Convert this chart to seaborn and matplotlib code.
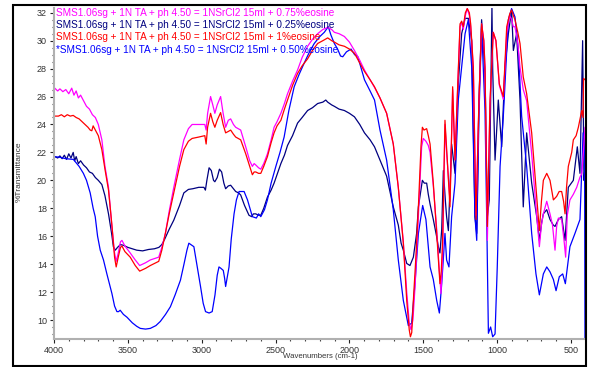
import matplotlib
matplotlib.use("Agg")
import matplotlib.pyplot as plt
import seaborn as sns
import pandas as pd
from matplotlib.patches import Rectangle
from matplotlib.ticker import MultipleLocator

sns.set_theme(style="white")
plt.rcParams['font.family'] = ['Liberation Sans', 'DejaVu Sans']

labels = [
    "SMS1.06sg + 1N TA + ph 4.50 = 1NSrCl2 15ml + 0.75%eosine",
    "SMS1.06sg + 1N TA + ph 4.50 = 1NSrCl2 15ml + 0.25%eosine",
    "SMS1.06sg + 1N TA + ph 4.50 = 1NSrCl2 15ml + 1%eosine",
    "*SMS1.06sg + 1N TA + ph 4.50 = 1NSrCl2 15ml + 0.50%eosine",
]
colors = ["#FF00FF", "#000080", "#FF0000", "#0000FF"]

# 0.75% eosine (magenta)
wn_m = [3995, 3975, 3960, 3940, 3920, 3900, 3880, 3865, 3850, 3835, 3820, 3800, 3780, 3760, 3740, 3720, 3700,
        3676, 3655, 3631, 3608, 3590, 3579, 3565, 3550, 3540, 3520, 3484, 3450, 3420, 3380, 3348, 3291, 3270,
        3246, 3220, 3189, 3150, 3121, 3090, 3065, 3020, 2979, 2970, 2960, 2940, 2925, 2911, 2895, 2872, 2855,
        2838, 2820, 2804, 2785, 2770, 2736, 2702, 2675, 2657, 2645, 2634, 2615, 2600, 2580, 2555, 2530, 2510,
        2490, 2464, 2440, 2419, 2385, 2351, 2320, 2283, 2250, 2215, 2180, 2147, 2120, 2102, 2070, 2034, 2000,
        1966, 1930, 1898, 1860, 1830, 1793, 1748, 1703, 1669, 1635, 1612, 1595, 1583, 1570, 1555, 1533, 1511,
        1500, 1482, 1466, 1454, 1432, 1409, 1391, 1380, 1369, 1353, 1342, 1335, 1319, 1301, 1285, 1269, 1251,
        1240, 1229, 1215, 1202, 1188, 1179, 1161, 1143, 1123, 1105, 1090, 1082, 1066, 1048, 1026, 1008, 985,
        958, 935, 915, 902, 890, 879, 860, 845, 823, 800, 766, 737, 714, 700, 687, 664, 642, 625, 608, 597,
        585, 563, 545, 536, 525, 507, 484, 461, 440, 427, 416, 405]
t_m = [26.6, 26.4, 26.55, 26.35, 26.5, 26.2, 26.6, 26.1, 26.4, 25.9, 26.1, 25.7, 25.3, 25.1, 24.7, 24.5, 24.0,
       22.9, 21.0, 19.5, 16.7, 14.8, 14.2, 14.8, 15.6, 15.7, 15.3, 14.8, 14.3, 13.9, 14.1, 14.3, 14.5, 15.2,
       16.2, 17.8, 19.5, 21.5, 22.9, 23.7, 24.0, 24.0, 24.0, 23.6, 24.8, 26.0, 25.4, 24.8, 25.4, 26.0, 24.8,
       23.8, 24.3, 24.4, 24.0, 23.8, 23.6, 22.4, 21.4, 21.0, 21.2, 21.1, 20.9, 20.8, 21.2, 21.9, 22.9, 23.8,
       24.2, 24.8, 25.5, 26.2, 27.1, 27.9, 28.8, 29.6, 30.1, 30.5, 30.8, 30.95, 30.8, 30.6, 30.5, 30.3, 29.9,
       29.3, 28.6, 27.9, 27.2, 26.65, 25.9, 24.8, 22.6, 19.5, 15.6, 12.0, 9.8, 9.3, 10.0, 12.5, 17.5, 22.4,
       23.0, 22.8, 22.5, 22.0, 19.6, 16.5, 13.5, 11.9, 14.5, 24.0, 22.0, 21.0, 18.5, 26.5, 21.5, 26.0, 31.0,
       31.3, 30.8, 31.8, 32.3, 31.8, 31.0, 28.0, 17.5, 25.5, 31.2, 30.0, 28.0, 15.7, 25.5, 30.6, 30.0, 26.8,
       25.8, 30.5, 31.8, 31.5, 31.0, 31.0, 29.8, 28.1, 26.5, 25.7, 21.9, 18.1, 15.25, 16.8, 17.6, 18.5, 17.6,
       16.8, 15.0, 16.7, 17.3, 17.2, 15.5, 14.5, 17.5, 18.6, 19.0, 19.5, 20.2, 20.5, 22.0, 23.8]

# 0.25% eosine (navy)
wn_n = [3995, 3975, 3960, 3945, 3930, 3915, 3900, 3885, 3870, 3860, 3850, 3835, 3820, 3800, 3780, 3760, 3740,
        3720, 3700, 3676, 3655, 3631, 3610, 3598, 3585, 3570, 3550, 3530, 3500, 3470, 3440, 3400, 3360, 3320,
        3290, 3270, 3250, 3220, 3189, 3150, 3121, 3090, 3060, 3020, 2985, 2975, 2965, 2950, 2935, 2920, 2911,
        2895, 2880, 2865, 2850, 2838, 2820, 2804, 2785, 2770, 2750, 2736, 2710, 2680, 2662, 2650, 2634, 2615,
        2600, 2580, 2555, 2530, 2510, 2490, 2464, 2440, 2419, 2385, 2351, 2320, 2283, 2250, 2215, 2180, 2160,
        2147, 2120, 2102, 2070, 2034, 2000, 1966, 1930, 1898, 1860, 1830, 1793, 1748, 1703, 1669, 1650, 1635,
        1612, 1590, 1567, 1545, 1533, 1506, 1493, 1477, 1466, 1454, 1432, 1410, 1398, 1387, 1375, 1364, 1350,
        1342, 1330, 1308, 1285, 1263, 1240, 1217, 1195, 1172, 1150, 1138, 1123, 1105, 1082, 1066, 1053, 1035,
        1030, 1014, 992, 969, 947, 924, 902, 890, 868, 845, 823, 800, 766, 732, 714, 698, 687, 664, 642, 620,
        608, 585, 563, 540, 518, 484, 457, 439, 421, 412, 405]
t_n = [21.7, 21.6, 21.75, 21.55, 21.8, 21.5, 21.9, 21.6, 22.0, 21.4, 21.7, 21.2, 21.4, 21.1, 20.9, 20.6, 20.5,
       20.2, 20.0, 19.7, 18.9, 17.6, 16.2, 15.25, 15.0, 15.2, 15.4, 15.35, 15.2, 15.1, 15.0, 14.95, 15.05, 15.1,
       15.2, 15.4, 15.8, 16.5, 17.15, 18.2, 19.1, 19.35, 19.4, 19.5, 19.5, 19.3, 20.0, 20.9, 20.7, 20.0, 19.9,
       20.2, 20.8, 20.6, 19.8, 19.4, 19.6, 19.65, 19.4, 19.2, 19.1, 18.95, 18.2, 17.5, 17.4, 17.6, 17.6, 17.5,
       17.5, 18.0, 18.8, 19.3, 19.8, 20.4, 21.2, 21.8, 22.5, 23.2, 24.1, 24.5, 25.0, 25.2, 25.5, 25.6, 25.75,
       25.6, 25.4, 25.3, 25.1, 25.0, 24.8, 24.55, 24.0, 23.4, 22.9, 22.4, 21.45, 20.3, 18.1, 16.8, 15.5, 15.0,
       14.05, 13.9, 14.5, 16.2, 18.1, 20.0, 19.8, 19.8, 19.0, 18.3, 17.2, 16.0, 15.25, 14.8, 16.5, 20.7, 18.5,
       17.4, 16.4, 22.6, 20.5, 26.9, 30.5, 31.6, 31.6, 30.0, 17.4, 16.2, 25.75, 31.5, 27.65, 17.4, 18.6, 32.4,
       28.0, 21.45, 25.75, 22.4, 28.1, 30.5, 32.2, 29.3, 30.5, 25.75, 18.1, 23.4, 19.8, 17.4, 15.7, 17.0, 17.6,
       17.9, 17.2, 16.8, 16.7, 17.2, 17.4, 15.7, 19.5, 20.0, 22.4, 20.5, 30.0, 20.0, 21.0]

# 1% eosine (red)
wn_r = [3995, 3970, 3950, 3930, 3910, 3890, 3870, 3850, 3830, 3800, 3770, 3755, 3744, 3735, 3720, 3700, 3676,
        3655, 3631, 3608, 3590, 3579, 3565, 3550, 3540, 3520, 3484, 3450, 3420, 3380, 3348, 3291, 3270, 3246,
        3220, 3189, 3150, 3121, 3090, 3065, 3020, 2979, 2970, 2960, 2940, 2925, 2911, 2895, 2872, 2855, 2838,
        2820, 2804, 2785, 2770, 2736, 2702, 2675, 2657, 2645, 2634, 2615, 2600, 2580, 2555, 2530, 2510, 2490,
        2464, 2440, 2419, 2385, 2351, 2320, 2283, 2250, 2215, 2180, 2147, 2120, 2102, 2070, 2034, 2000, 1966,
        1930, 1898, 1860, 1830, 1793, 1748, 1703, 1669, 1635, 1612, 1595, 1587, 1578, 1567, 1550, 1533, 1515,
        1506, 1495, 1477, 1466, 1454, 1432, 1409, 1387, 1378, 1369, 1353, 1335, 1319, 1301, 1285, 1269, 1251,
        1240, 1229, 1215, 1202, 1188, 1179, 1161, 1143, 1123, 1105, 1090, 1082, 1066, 1048, 1026, 1008, 985,
        958, 935, 915, 902, 890, 879, 860, 845, 823, 800, 766, 737, 714, 700, 687, 664, 642, 619, 597, 580,
        563, 550, 540, 530, 518, 495, 484, 465, 450, 427, 418, 415, 405]
t_r = [24.6, 24.6, 24.7, 24.55, 24.7, 24.6, 24.65, 24.5, 24.4, 24.1, 23.8, 23.6, 23.55, 23.9, 23.6, 23.2, 22.2,
       20.8, 19.3, 16.8, 14.5, 13.8, 14.5, 15.2, 15.3, 14.9, 14.5, 13.9, 13.5, 13.7, 13.9, 14.2, 15.0, 16.2,
       17.6, 19.1, 21.0, 22.2, 22.8, 23.0, 23.1, 23.2, 22.6, 23.8, 24.8, 24.2, 23.8, 24.3, 24.85, 24.0, 23.4,
       23.5, 23.6, 23.3, 23.1, 22.9, 21.9, 21.0, 20.4, 20.6, 20.6, 20.5, 20.5, 21.0, 21.7, 22.7, 23.4, 23.9,
       24.3, 25.1, 25.75, 26.8, 27.65, 28.2, 28.7, 29.3, 29.8, 30.0, 30.2, 30.0, 29.9, 29.7, 29.6, 29.4, 29.1,
       28.4, 27.8, 27.2, 26.7, 25.9, 24.8, 22.6, 19.5, 15.5, 11.4, 9.3, 8.8, 9.1, 11.4, 14.5, 18.1, 22.5,
       23.8, 23.6, 23.7, 23.2, 22.6, 19.8, 16.2, 12.6, 13.5, 15.7, 24.3, 21.0, 18.1, 26.7, 21.45, 26.2, 31.2,
       31.4, 31.0, 32.0, 32.3, 32.0, 31.2, 28.1, 17.2, 25.75, 31.2, 30.0, 28.1, 16.7, 25.75, 30.6, 30.0, 26.9,
       26.0, 31.0, 31.9, 32.2, 31.8, 31.5, 30.6, 29.8, 27.4, 26.2, 23.4, 19.5, 16.4, 18.5, 20.0, 20.5, 20.0,
       18.6, 18.85, 19.2, 19.2, 18.5, 17.6, 19.5, 21.0, 22.0, 22.9, 23.2, 23.8, 25.0, 24.5, 27.3, 27.2]

# 0.50% eosine (blue)
wn_b = [3995, 3960, 3920, 3869, 3830, 3801, 3780, 3755, 3735, 3721, 3705, 3687, 3665, 3642, 3625, 3608, 3590,
        3574, 3563, 3552, 3530, 3506, 3470, 3440, 3416, 3380, 3348, 3310, 3280, 3245, 3212, 3180, 3144, 3120,
        3100, 3087, 3053, 3030, 3008, 2990, 2974, 2950, 2929, 2910, 2895, 2883, 2870, 2854, 2845, 2838, 2828,
        2815, 2800, 2781, 2765, 2747, 2730, 2713, 2690, 2657, 2630, 2615, 2600, 2575, 2555, 2530, 2498, 2470,
        2442, 2410, 2374, 2340, 2306, 2270, 2238, 2200, 2170, 2143, 2125, 2102, 2080, 2060, 2045, 2020, 1989,
        1965, 1943, 1920, 1898, 1860, 1830, 1810, 1793, 1748, 1703, 1669, 1635, 1601, 1590, 1579, 1556, 1533,
        1504, 1482, 1454, 1432, 1409, 1391, 1375, 1353, 1342, 1326, 1308, 1285, 1263, 1240, 1217, 1195, 1172,
        1150, 1138, 1123, 1105, 1082, 1070, 1059, 1044, 1030, 1014, 999, 980, 958, 924, 902, 879, 856, 834,
        800, 766, 737, 714, 687, 664, 642, 619, 601, 579, 556, 538, 507, 473, 439, 418, 408, 405]
t_b = [21.7, 21.65, 21.55, 21.5, 21.0, 20.5, 20.0, 19.1, 18.0, 17.4, 16.0, 15.0, 14.3, 13.3, 12.6, 11.9, 11.0,
       10.6, 10.6, 10.7, 10.4, 10.2, 9.8, 9.55, 9.4, 9.35, 9.4, 9.6, 9.9, 10.4, 10.95, 11.8, 12.85, 14.0,
       15.0, 15.5, 15.25, 13.8, 12.4, 11.2, 10.6, 10.5, 10.6, 11.8, 13.2, 13.8, 13.7, 13.55, 13.0, 12.4, 13.0,
       13.8, 15.8, 17.6, 18.6, 19.2, 19.2, 19.2, 18.6, 17.4, 17.3, 17.6, 17.4, 17.9, 18.6, 19.8, 21.0, 22.0,
       23.1, 25.0, 26.7, 27.6, 28.4, 29.2, 29.8, 30.3, 30.6, 31.0, 30.4, 29.8, 29.4, 28.9, 28.85, 29.2, 29.4,
       29.0, 28.85, 28.0, 27.2, 26.4, 25.75, 24.6, 23.6, 21.45, 17.9, 14.3, 11.4, 9.6, 9.7, 9.75, 12.6, 16.2,
       18.2, 17.2, 13.8, 12.9, 11.4, 10.5, 12.6, 16.2, 14.3, 13.8, 17.4, 19.8, 25.75, 28.1, 30.5, 31.5, 28.1,
       17.4, 15.7, 24.6, 31.0, 25.0, 17.0, 9.05, 9.5, 8.8, 9.0, 13.8, 21.0, 24.6, 31.5, 32.3, 31.7, 29.3, 24.6,
       21.0, 16.2, 13.3, 11.8, 13.3, 13.8, 13.45, 12.9, 12.1, 13.1, 13.3, 12.6, 15.25, 16.2, 17.2, 23.4, 23.0, 8.0]

W, H = 589, 367
fig = plt.figure(figsize=(W / 100, H / 100), dpi=100)
fig.patch.set_facecolor("white")
ax = fig.add_axes([54 / W, 1 - 339 / H, 531 / W, 331 / H])
ax.set_facecolor("white")

series = [(wn_n, t_n, colors[1]), (wn_b, t_b, colors[3]), (wn_m, t_m, colors[0]), (wn_r, t_r, colors[2])]
for wn, t, c in series:
    df = pd.DataFrame({"wn": wn, "T": t})
    sns.lineplot(data=df, x="wn", y="T", sort=False, estimator=None, color=c, linewidth=0.9, ax=ax)

ax.set_xlim(4000, 405)
ax.set_ylim(8.64, 32.34)
ax.xaxis.set_major_locator(MultipleLocator(500))
ax.xaxis.set_minor_locator(MultipleLocator(100))
ax.yaxis.set_major_locator(MultipleLocator(2))
ax.yaxis.set_minor_locator(MultipleLocator(0.5))
ax.tick_params(axis="both", which="major", direction="out", length=3, width=0.8, color="#222222",
               labelsize=6.5, labelcolor="#333333", pad=2, left=True, bottom=True)
ax.tick_params(axis="both", which="minor", direction="out", length=1.5, width=0.8, color="#444444",
               left=True, bottom=True)
for s in ["top", "right"]:
    ax.spines[s].set_visible(False)
for s in ["left", "bottom"]:
    ax.spines[s].set_color("#b0b0b0")
    ax.spines[s].set_linewidth(1.5)
ax.set_xlabel("")
ax.set_ylabel("")

fig.text(320 / W, 1 - 357 / H, "Wavenumbers (cm-1)", ha="center", va="center", fontsize=5.6, color="#333333")
fig.text(19 / W, 1 - 172 / H, "%Transmittance", ha="center", va="center", rotation=90, fontsize=6, color="#333333")

ys = [12.5, 25.0, 37.5, 50.0]
order = [0, 1, 2, 3]
for i, y in zip(order, ys):
    fig.text(56 / W, 1 - y / H, labels[i], ha="left", va="center", fontsize=7.2, color=colors[i])

fig.patches.append(Rectangle((13 / W, 1 - 366 / H), 573 / W, 361 / H, transform=fig.transFigure,
                             fill=False, edgecolor="black", linewidth=1.5))

fig.savefig("out.png", dpi=100)
